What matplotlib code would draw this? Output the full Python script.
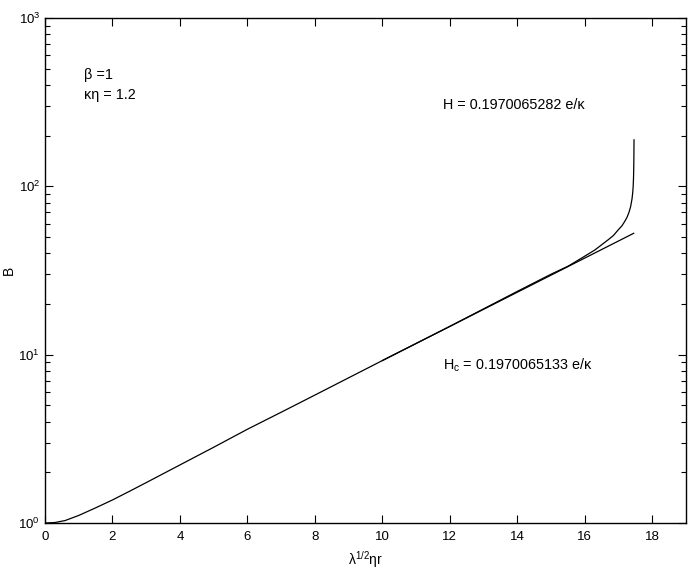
import numpy as np
import matplotlib
matplotlib.use('Agg')
from matplotlib import pyplot as plt
from matplotlib.ticker import LogLocator, NullLocator, FixedLocator

plt.rcParams['font.family'] = ['Liberation Sans', 'DejaVu Sans']
plt.rcParams['mathtext.fontset'] = 'custom'
plt.rcParams['mathtext.rm'] = 'Liberation Sans'
plt.rcParams['mathtext.it'] = 'Liberation Sans:italic'

# curva B(r) (log10 B)
r_curva = [0.0, 0.3, 0.6, 1.0, 1.5, 2.0, 2.5, 3.0, 4.0, 5.0, 6.0, 7.0, 8.0,
           10.0, 12.0, 14.0, 15.0, 15.5, 15.9, 16.3, 16.69, 16.85, 16.99,
           17.1, 17.18, 17.25, 17.31, 17.36, 17.40, 17.42, 17.435, 17.445,
           17.452, 17.456, 17.46]
logB_curva = [0.0, 0.003, 0.015, 0.045, 0.09, 0.137, 0.188, 0.24, 0.345,
              0.45, 0.557, 0.658, 0.76, 0.965, 1.168, 1.376, 1.478, 1.525,
              1.573, 1.622, 1.682, 1.708, 1.741, 1.765, 1.79, 1.815, 1.845,
              1.88, 1.925, 1.96, 2.0, 2.05, 2.11, 2.18, 2.276]

# asintota H_c (recta en escala log)
r_recta = [10.0, 17.45]
logB_recta = [0.965, 1.721]

B_curva = 10 ** np.array(logB_curva)
B_recta = 10 ** np.array(logB_recta)

fig = plt.figure(figsize=(6.92, 5.69), dpi=100)
ax = fig.add_axes([0.065, 0.0808, 0.9263, 0.8876])

ax.plot(r_curva, B_curva, color='black', lw=0.9)
ax.plot(r_recta, B_recta, color='black', lw=0.9)

ax.set_yscale('log')
ax.set_xlim(0, 19)
ax.set_ylim(1, 1000)
ax.xaxis.set_major_locator(FixedLocator(np.arange(0, 19, 2)))
ax.xaxis.set_minor_locator(NullLocator())
ax.yaxis.set_major_locator(LogLocator(base=10, numticks=10))
ax.yaxis.set_minor_locator(LogLocator(base=10, subs=np.arange(2, 10), numticks=10))
ax.tick_params(which='major', direction='in', length=6, width=0.8,
               top=True, right=True, labelsize=9.5)
ax.tick_params(axis='x', which='major', pad=6)
ax.tick_params(which='minor', direction='in', length=3.5, width=0.8,
               top=True, right=True)
for s in ax.spines.values():
    s.set_linewidth(1.0)

ax.set_xlabel(r'λ$^{\mathregular{1/2}}$ηr', fontsize=10, labelpad=4)
ax.set_ylabel('B', fontsize=10, labelpad=1.5)

ax.text(1.15, 459, 'β =1', fontsize=10.4, va='center')
ax.text(1.15, 349, 'κη = 1.2', fontsize=10.4, va='center')
ax.text(11.8, 305, 'H = 0.1970065282 e/κ', fontsize=10.4, va='center')
ax.text(11.8, 8.7, r'H$_{\mathregular{c}}$ = 0.1970065133 e/κ', fontsize=10.4, va='center')

fig.savefig('out.png', dpi=100)
